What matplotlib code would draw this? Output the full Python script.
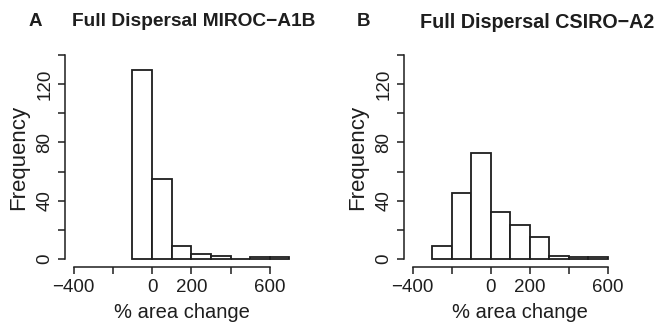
#!/usr/bin/env python3
"""
Two-panel histogram of % area change under full dispersal (R base-graphics look).
Writes out.png
"""
import matplotlib
matplotlib.use("Agg")
import matplotlib.pyplot as plt
import numpy as np

# bin edges and counts
edges_a = [-100, 0, 100, 200, 300, 400, 500, 600, 700]
counts_a = [130, 55, 9, 3, 2, 0, 1, 1]
edges_b = [-300, -200, -100, 0, 100, 200, 300, 400, 500, 600]
counts_b = [9, 45, 73, 32, 23, 15, 2, 1, 1]

panel_letters = ["A", "B"]
titles = ["Full Dispersal MIROC\u2212A1B", "Full Dispersal CSIRO\u2212A2"]
x_ticks = [-400, -200, 0, 200, 400, 600]
x_ticklabels = ["\u2212400", "", "0", "200", "", "600"]
y_ticks = [0, 20, 40, 60, 80, 100, 120, 140]
y_ticklabels = ["0", "", "40", "", "80", "", "120", ""]

plt.rcParams["font.family"] = ["Liberation Sans", "DejaVu Sans"]

W, H = 655, 322
fig = plt.figure(figsize=(W / 100, H / 100), dpi=100)

ink = "#1e1e1e"


def px_axes(x0, x1, y_top, y_bot):
    return fig.add_axes([x0 / W, 1 - y_bot / H, (x1 - x0) / W, (y_bot - y_top) / H])


panels = [
    (px_axes(65, 298, 47, 267), edges_a, counts_a),
    (px_axes(404, 636, 47, 267), edges_b, counts_b),
]

for i, (ax, edges, counts) in enumerate(panels):
    edges = np.asarray(edges)
    ax.bar(edges[:-1], counts, width=np.diff(edges), align="edge",
           color="white", edgecolor=ink, linewidth=1.3)
    ax.set_xlim(-444, 744)
    ax.set_ylim(-5.6, 145.6)

    for side in ("top", "right"):
        ax.spines[side].set_visible(False)
    ax.spines["bottom"].set_bounds(-400, 600)
    ax.spines["left"].set_bounds(0, 140)
    for side in ("bottom", "left"):
        ax.spines[side].set_color(ink)
        ax.spines[side].set_linewidth(1.1)

    ax.set_xticks(x_ticks)
    ax.set_xticklabels(x_ticklabels)
    ax.set_yticks(y_ticks)
    ax.set_yticklabels(y_ticklabels, rotation=90, va="center")
    ax.tick_params(direction="out", length=5, width=1.1, color=ink,
                   labelsize=13.5, labelcolor=ink, pad=3.5)

    ax.set_xlabel("% area change", fontsize=14.5, color=ink, labelpad=5)
    ax.set_ylabel("Frequency", fontsize=16, color=ink, labelpad=5)

# panel letters and titles
title_y = 1 - 22 / H
fig.text(29 / W, title_y, panel_letters[0], fontsize=13.5, fontweight="bold",
         color=ink, va="center")
fig.text(72 / W, title_y, titles[0], fontsize=13.8, fontweight="bold",
         color=ink, va="center")
fig.text(357 / W, title_y, panel_letters[1], fontsize=13.5, fontweight="bold",
         color=ink, va="center")
fig.text(420 / W, title_y, titles[1], fontsize=14.2, fontweight="bold",
         color=ink, va="center")

fig.savefig("out.png", dpi=100, facecolor="white")
print("saved out.png")
